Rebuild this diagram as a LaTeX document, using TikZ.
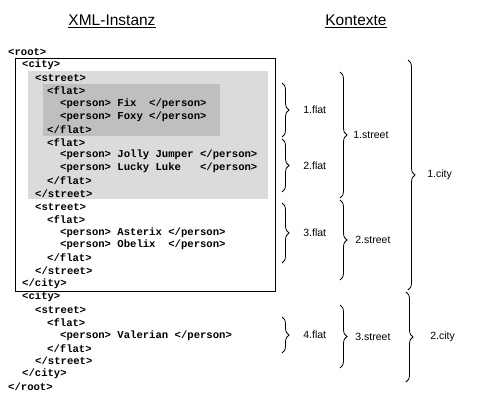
\documentclass[tikz,border=0pt]{standalone}
\usepackage{fontspec}
\setmainfont{Liberation Sans}
\newfontfamily\xmlfont{Liberation Mono}
\usetikzlibrary{decorations.pathreplacing}

\tikzset{
  xml/.style={anchor=west, inner sep=0pt, font=\xmlfont\bfseries\fontsize{10.6}{12}\selectfont},
  ctx/.style={decorate, decoration={brace, amplitude=7pt}, line width=0.8pt},
  ctxlabel/.style={anchor=west, inner sep=1pt, font=\fontsize{10.5}{12}\selectfont},
  heading/.style={font=\fontsize{15.5}{18}\selectfont}
}

\begin{document}
\begin{tikzpicture}[x=1pt,y=-1pt]
  \useasboundingbox (0,0) rectangle (480,400);

  % headings
  \node[heading] (instanz) at (112,21) {\underline{XML-Instanz}};
  \node[heading] (kontexte) at (356,21) {\underline{Kontexte}};

  % marked parts of the instance
  \fill[black!14] (28,71) rectangle (268,199);
  \fill[black!25] (43,84) rectangle (220,136);
  \draw[line width=0.8pt] (15,58) rectangle (275,291);

  % the instance
  \node[xml] (root)       at (8,52)    {<root>};
  \node[xml] (cityA)      at (22,64.9) {<city>};
  \node[xml] (streetA)    at (35,77.8) {<street>};
  \node[xml] (flatA)      at (47,90.6) {<flat>};
  \node[xml] (fix)        at (60,103.5) {<person> Fix\ \ </person>};
  \node[xml] (foxy)       at (60,116.4) {<person> Foxy </person>};
  \node[xml] (flatAend)   at (47,129.3) {</flat>};
  \node[xml] (flatB)      at (47,142.2) {<flat>};
  \node[xml] (jolly)      at (60,155)   {<person> Jolly Jumper </person>};
  \node[xml] (lucky)      at (60,167.9) {<person> Lucky Luke\ \ \ </person>};
  \node[xml] (flatBend)   at (47,180.8) {</flat>};
  \node[xml] (streetAend) at (35,193.7) {</street>};
  \node[xml] (streetB)    at (35,206.6) {<street>};
  \node[xml] (flatC)      at (47,219.4) {<flat>};
  \node[xml] (asterix)    at (60,232.3) {<person> Asterix </person>};
  \node[xml] (obelix)     at (60,245.2) {<person> Obelix\ \ </person>};
  \node[xml] (flatCend)   at (47,258.1) {</flat>};
  \node[xml] (streetBend) at (35,271)   {</street>};
  \node[xml] (cityAend)   at (22,283.8) {</city>};
  \node[xml] (cityB)      at (22,296.7) {<city>};
  \node[xml] (streetC)    at (35,309.6) {<street>};
  \node[xml] (flatD)      at (47,322.5) {<flat>};
  \node[xml] (valerian)   at (60,335.4) {<person> Valerian </person>};
  \node[xml] (flatDend)   at (47,348.2) {</flat>};
  \node[xml] (streetCend) at (35,361.1) {</street>};
  \node[xml] (cityBend)   at (22,374)   {</city>};
  \node[xml] (rootend)    at (8,386.9)  {</root>};

  % contexts
  \draw[ctx] (282,83) -- (282,137) node[ctxlabel, midway, xshift=20pt] (flat1) {1.flat};
  \draw[ctx] (282,139) -- (282,192) node[ctxlabel, midway, xshift=20pt] (flat2) {2.flat};
  \draw[ctx] (282,203) -- (282,263) node[ctxlabel, midway, xshift=20pt] (flat3) {3.flat};
  \draw[ctx] (282,317) -- (282,353) node[ctxlabel, midway, xshift=20pt] (flat4) {4.flat};

  \draw[ctx] (340,72) -- (340,198) node[ctxlabel, midway, xshift=12pt] (street1) {1.street};
  \draw[ctx] (340,200) -- (340,280) node[ctxlabel, midway, xshift=14pt] (street2) {2.street};
  \draw[ctx] (340,305) -- (340,368) node[ctxlabel, midway, xshift=14pt] (street3) {3.street};

  \draw[ctx] (408,60) -- (408,290) node[ctxlabel, midway, xshift=18pt] (city1) {1.city};
  \draw[ctx] (406,292) -- (406,382) node[ctxlabel, midway, xshift=23pt] (city2) {2.city};
\end{tikzpicture}
\end{document}
